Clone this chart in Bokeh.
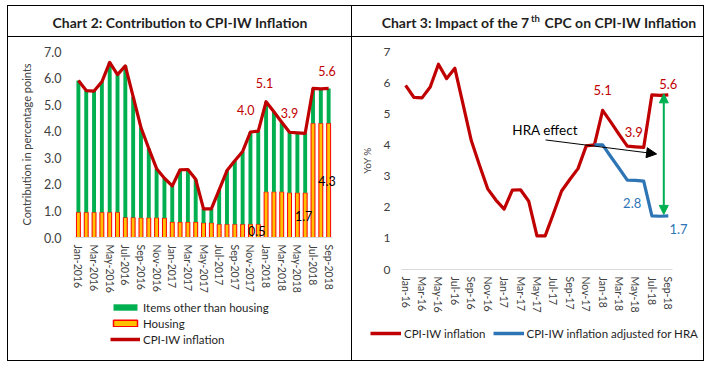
from bokeh.plotting import figure
from bokeh.models import (ColumnDataSource, Range1d, FixedTicker, Legend, LegendItem,
                          Label, Arrow, NormalHead, PrintfTickFormatter)
from bokeh.layouts import row, column
from bokeh.embed import file_html
from bokeh.resources import INLINE

# ---------------- data ----------------
months_long = ["Jan-2016", "Feb-2016", "Mar-2016", "Apr-2016", "May-2016", "Jun-2016",
               "Jul-2016", "Aug-2016", "Sep-2016", "Oct-2016", "Nov-2016", "Dec-2016",
               "Jan-2017", "Feb-2017", "Mar-2017", "Apr-2017", "May-2017", "Jun-2017",
               "Jul-2017", "Aug-2017", "Sep-2017", "Oct-2017", "Nov-2017", "Dec-2017",
               "Jan-2018", "Feb-2018", "Mar-2018", "Apr-2018", "May-2018", "Jun-2018",
               "Jul-2018", "Aug-2018", "Sep-2018"]
months_short = ["Jan-16", "Feb-16", "Mar-16", "Apr-16", "May-16", "Jun-16",
                "Jul-16", "Aug-16", "Sep-16", "Oct-16", "Nov-16", "Dec-16",
                "Jan-17", "Feb-17", "Mar-17", "Apr-17", "May-17", "Jun-17",
                "Jul-17", "Aug-17", "Sep-17", "Oct-17", "Nov-17", "Dec-17",
                "Jan-18", "Feb-18", "Mar-18", "Apr-18", "May-18", "Jun-18",
                "Jul-18", "Aug-18", "Sep-18"]
cpi_iw = [5.91, 5.53, 5.51, 5.86, 6.59, 6.13, 6.46, 5.30, 4.14, 3.35, 2.59, 2.23,
          1.94, 2.55, 2.56, 2.19, 1.08, 1.08, 1.79, 2.52, 2.89, 3.24, 3.97, 4.00,
          5.11, 4.73, 4.34, 3.96, 3.94, 3.92, 5.61, 5.59, 5.61]
housing = [0.95, 0.95, 0.95, 0.95, 0.95, 0.95, 0.75, 0.75, 0.74, 0.74, 0.74, 0.73,
           0.58, 0.58, 0.58, 0.58, 0.55, 0.55, 0.50, 0.50, 0.50, 0.50, 0.50, 0.50,
           1.72, 1.72, 1.72, 1.68, 1.68, 1.68, 4.30, 4.30, 4.30]
other_items = [4.96, 4.58, 4.56, 4.91, 5.64, 5.18, 5.71, 4.55, 3.40, 2.61, 1.85, 1.50,
               1.36, 1.97, 1.98, 1.61, 0.53, 0.53, 1.29, 2.02, 2.39, 2.74, 3.47, 3.50,
               3.39, 3.01, 2.62, 2.28, 2.26, 2.24, 1.31, 1.29, 1.31]
adj_months = ["Dec-17", "Jan-18", "Feb-18", "Mar-18", "Apr-18", "May-18", "Jun-18",
              "Jul-18", "Aug-18", "Sep-18"]
cpi_adj_hra = [4.00, 4.00, 3.62, 3.25, 2.87, 2.86, 2.84, 1.72, 1.71, 1.72]
tick_idx = [0, 2, 4, 6, 8, 10, 12, 14, 16, 18, 20, 22, 24, 26, 28, 30, 32]

# annotation texts (text, x, y, colour)
c2_labels = [("4.0", 21.4, 4.81, "#C00000"), ("5.1", 23.8, 5.80, "#C00000"),
             ("3.9", 27.0, 4.70, "#C00000"), ("5.6", 31.8, 6.27, "#C00000"),
             ("0.5", 22.8, 0.25, "#000000"), ("1.7", 28.8, 0.80, "#000000"),
             ("4.3", 31.8, 2.11, "#000000")]
c3_labels = [("5.1", 24.0, 5.75, "#C00000"), ("3.9", 27.8, 4.40, "#C00000"),
             ("5.6", 32.0, 5.96, "#C00000"), ("2.8", 27.6, 2.14, "#2E75B6"),
             ("1.7", 33.25, 1.29, "#2E75B6")]

FONT = "Lato"
RED = "#C00000"
GREEN = "#00B050"
YELLOW = "#FFC000"
BLUE = "#2E75B6"
TICKC = "#404040"
NAN = float("nan")

x_idx = list(range(len(months_long)))
idx_of = {m: i for i, m in enumerate(months_short)}


def blank_fig(w, h, styles=None):
    t = figure(width=w, height=h, x_range=Range1d(0, w), y_range=Range1d(0, h),
               output_backend="svg", toolbar_location=None, min_border=0,
               x_axis_location=None, y_axis_location=None, styles=styles or {})
    t.frame_align = False
    t.grid.visible = False
    t.outline_line_color = None
    return t


def style_axes(p, xlabels, xfs, yfs):
    p.frame_align = False
    p.grid.visible = False
    p.outline_line_color = None
    xa = p.xaxis[0]
    xa.bounds = (-0.5, 32.5)
    xa.ticker = FixedTicker(ticks=tick_idx)
    xa.major_label_overrides = {i: xlabels[i] for i in tick_idx}
    xa.major_label_orientation = "vertical"
    xa.axis_line_color = "#D9D9D9"
    xa.major_tick_line_color = None
    xa.minor_tick_line_color = None
    xa.major_tick_out = 0
    xa.major_label_standoff = 7
    xa.major_label_text_font = FONT
    xa.major_label_text_font_size = xfs
    xa.major_label_text_color = TICKC
    ya = p.yaxis[0]
    ya.ticker = FixedTicker(ticks=[0, 1, 2, 3, 4, 5, 6, 7])
    ya.axis_line_color = None
    ya.major_tick_line_color = None
    ya.minor_tick_line_color = None
    ya.major_tick_out = 0
    ya.major_label_text_font = FONT
    ya.major_label_text_font_size = yfs
    ya.major_label_text_color = TICKC
    ya.axis_label_text_font = FONT
    ya.axis_label_text_font_style = "normal"
    ya.axis_label_text_color = TICKC


W2, W3, HT = 343, 351, 31
TB = {"border-bottom": "1px solid black"}

# ---------------- Chart 2 ----------------
t2 = blank_fig(W2, HT, TB)
t2.add_layout(Label(x=W2 / 2, y=15, text="Chart 2: Contribution to CPI-IW Inflation",
                    text_align="center", text_baseline="middle", text_font=FONT,
                    text_font_style="bold", text_font_size="14px", text_color="#1F1F1F"))

p2 = figure(width=W2, height=258, x_range=Range1d(-0.5, 33.26), y_range=Range1d(0, 7),
            output_backend="svg", toolbar_location=None,
            min_border_left=66, min_border_right=13, min_border_top=14, min_border_bottom=55)
src2 = ColumnDataSource(dict(x=x_idx, housing=housing, other=other_items, cpi=cpi_iw))
p2.vbar(x="x", bottom=0, top="housing", width=0.5, source=src2,
        fill_color=YELLOW, line_color="#FF0000", line_width=1)
src2b = ColumnDataSource(dict(x=x_idx, b=housing, t=cpi_iw))
p2.vbar(x="x", bottom="b", top="t", width=0.5, source=src2b,
        fill_color=GREEN, line_color=None)
p2.line(x="x", y="cpi", source=src2, line_color=RED, line_width=3.2, line_join="round")
style_axes(p2, months_long, "10.5px", "12.5px")
p2.yaxis[0].formatter = PrintfTickFormatter(format="%.1f")
p2.yaxis[0].major_label_standoff = 13
p2.yaxis[0].axis_label = "Contribution in percentage points"
p2.yaxis[0].axis_label_text_font_size = "11px"
p2.yaxis[0].axis_label_standoff = 8
for txt, lx, ly, col in c2_labels:
    p2.add_layout(Label(x=lx, y=ly, text=txt, text_align="center", text_baseline="middle",
                        text_font=FONT, text_font_size="12.5px", text_color=col))

# legend strip (legend swatches only, no data drawn)
l2 = blank_fig(W2, 65)
g_other = l2.vbar(x=[NAN], top=[NAN], width=1, fill_color=GREEN, line_color=None)
g_house = l2.vbar(x=[NAN], top=[NAN], width=1, fill_color=YELLOW, line_color="#FF0000",
                  line_width=1.5)
g_line2 = l2.line(x=[NAN], y=[NAN], line_color=RED, line_width=3.5)
leg2 = Legend(items=[LegendItem(label="Items other than housing", renderers=[g_other]),
                     LegendItem(label="Housing", renderers=[g_house]),
                     LegendItem(label="CPI-IW inflation", renderers=[g_line2])],
              location=(102, 14), orientation="vertical", padding=0, margin=0,
              glyph_width=30, glyph_height=8, label_height=14, spacing=2,
              label_standoff=3, label_text_font=FONT, label_text_font_size="11.5px",
              label_text_color="#1F1F1F", border_line_color=None,
              background_fill_alpha=0)
l2.add_layout(leg2, "center")

# ---------------- Chart 3 ----------------
t3 = blank_fig(W3, HT, TB)
t3.add_layout(Label(x=177, y=15, text="Chart 3: Impact of the 7", text_align="right",
                    text_baseline="middle", text_font=FONT, text_font_style="bold",
                    text_font_size="14px", text_color="#1F1F1F"))
t3.add_layout(Label(x=178.5, y=19.2, text="th", text_align="left",
                    text_baseline="middle", text_font=FONT, text_font_style="bold",
                    text_font_size="9.5px", text_color="#1F1F1F"))
t3.add_layout(Label(x=192, y=15, text="CPC on CPI-IW Inflation", text_align="left",
                    text_baseline="middle", text_font=FONT, text_font_style="bold",
                    text_font_size="14px", text_color="#1F1F1F"))

p3 = figure(width=W3, height=278, x_range=Range1d(-0.5, 34.58), y_range=Range1d(0, 7),
            output_backend="svg", toolbar_location=None,
            min_border_left=49, min_border_right=14, min_border_top=14, min_border_bottom=44)
p3.line(x_idx, cpi_iw, line_color=RED, line_width=3.2, line_join="round")
p3.line([idx_of[m] for m in adj_months], cpi_adj_hra, line_color=BLUE,
        line_width=3.2, line_join="round")
style_axes(p3, months_short, "10.5px", "12px")
p3.yaxis[0].major_label_standoff = 11
p3.yaxis[0].axis_label = "YoY %"
p3.yaxis[0].axis_label_text_font_size = "10px"
p3.yaxis[0].axis_label_standoff = 8
for txt, lx, ly, col in c3_labels:
    p3.add_layout(Label(x=lx, y=ly, text=txt, text_align="center", text_baseline="middle",
                        text_font=FONT, text_font_size="13px", text_color=col))
p3.add_layout(Label(x=13.0, y=4.47, text="HRA effect", text_align="left",
                    text_baseline="middle", text_font=FONT, text_font_size="13.5px",
                    text_color="#000000"))
p3.add_layout(Arrow(end=NormalHead(size=10, fill_color="black", line_color="black"),
                    x_start=17.05, y_start=4.16, x_end=30.57, y_end=3.71,
                    line_color="black", line_width=1))
p3.add_layout(Arrow(start=NormalHead(size=9, fill_color=GREEN, line_color=GREEN),
                    end=NormalHead(size=9, fill_color=GREEN, line_color=GREEN),
                    x_start=31.45, y_start=1.77, x_end=31.45, y_end=5.64,
                    line_color=GREEN, line_width=2))

l3 = blank_fig(W3, 45)
g_red = l3.line(x=[NAN], y=[NAN], line_color=RED, line_width=3.5)
g_blue = l3.line(x=[NAN], y=[NAN], line_color=BLUE, line_width=3.5)
leg3 = Legend(items=[LegendItem(label="CPI-IW inflation", renderers=[g_red]),
                     LegendItem(label="CPI-IW inflation adjusted for HRA", renderers=[g_blue])],
              location=(18, 20), orientation="horizontal", padding=0, margin=0,
              glyph_width=31, glyph_height=8, label_height=14, spacing=7,
              label_standoff=3, label_text_font=FONT, label_text_font_size="11.5px",
              label_text_color="#1F1F1F", border_line_color=None,
              background_fill_alpha=0)
l3.add_layout(leg3, "center")

left = column(t2, p2, l2, styles={"border": "1px solid black"})
right = column(t3, p3, l3, styles={"border-top": "1px solid black",
                                   "border-right": "1px solid black",
                                   "border-bottom": "1px solid black"})
layout = row(left, right, margin=(5, 0, 0, 7))

open("out.html", "w").write(file_html(layout, INLINE))
